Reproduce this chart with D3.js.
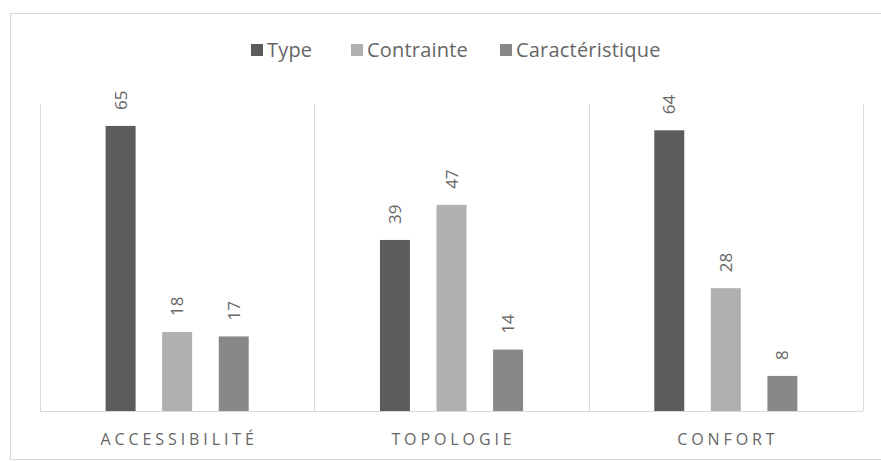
<!DOCTYPE html>
<html>
<head>
<meta charset="utf-8">
<script src="https://cdn.jsdelivr.net/npm/d3@7"></script>
<style>
  body { margin: 0; background: #fff; }
  svg text { font-family: "Open Sans", sans-serif; fill: #666666; }
</style>
</head>
<body>
<div id="container"></div>
<script>
const categories = ['ACCESSIBILITÉ', 'TOPOLOGIE', 'CONFORT']
const seriesNames = ['Type', 'Contrainte', 'Caractéristique']
const typeValues = [65, 39, 64]
const contrainteValues = [18, 47, 28]
const caractValues = [17, 14, 8]
const colors = ['#5c5c5c', '#b0b0b0', '#888888']

const width = 881
const height = 461
const margin = { top: 104, right: 18, bottom: 50, left: 40 }

const svg = d3.select('#container')
    .append('svg')
    .attr('width', width)
    .attr('height', height)

// cadre du graphique
svg.append('rect')
    .attr('x', 10.5).attr('y', 13.5)
    .attr('width', 880).attr('height', 446)
    .attr('fill', 'none')
    .attr('stroke', '#d9d9d9')

const data = categories.map((c, i) => ({
    cat: c,
    values: [typeValues[i], contrainteValues[i], caractValues[i]]
}))

const x0 = d3.scaleBand()
    .domain(categories)
    .range([margin.left, width - margin.right])

const x1 = d3.scaleBand()
    .domain(seriesNames)
    .range([0, x0.bandwidth()])
    .paddingInner(0.47)
    .paddingOuter(1.16)

const y = d3.scaleLinear()
    .domain([0, 70])
    .range([height - margin.bottom, margin.top])

// séparateurs verticaux
const edges = categories.map(c => x0(c)).concat([x0.range()[1]])
svg.selectAll('.sep').data(edges)
    .join('line')
    .attr('class', 'sep')
    .attr('x1', d => Math.round(d) + 0.5)
    .attr('x2', d => Math.round(d) + 0.5)
    .attr('y1', margin.top)
    .attr('y2', height - margin.bottom)
    .attr('stroke', '#d9d9d9')

svg.append('line')
    .attr('x1', margin.left).attr('x2', width - margin.right)
    .attr('y1', y(0) + 0.5).attr('y2', y(0) + 0.5)
    .attr('stroke', '#d9d9d9')

const groups = svg.selectAll('.cat').data(data)
    .join('g')
    .attr('class', 'cat')
    .attr('transform', d => `translate(${x0(d.cat)}, 0)`)

groups.selectAll('rect')
    .data(d => d.values.map((v, i) => ({ name: seriesNames[i], v, i })))
    .join('rect')
    .attr('x', d => x1(d.name))
    .attr('y', d => y(d.v))
    .attr('width', x1.bandwidth())
    .attr('height', d => y(0) - y(d.v))
    .attr('fill', d => colors[d.i])

groups.selectAll('.lbl')
    .data(d => d.values.map((v, i) => ({ name: seriesNames[i], v })))
    .join('text')
    .attr('class', 'lbl')
    .attr('transform', d => `translate(${x1(d.name) + x1.bandwidth() / 2 + 6}, ${y(d.v) - 16}) rotate(-90)`)
    .attr('font-size', 17)
    .text(d => d.v)

// étiquettes des catégories
const xAxis = d3.axisBottom(x0).tickSize(0)
const gx = svg.append('g')
    .attr('transform', `translate(2, ${y(0)})`)
    .call(xAxis)
gx.select('.domain').remove()
gx.selectAll('text')
    .attr('dy', 0)
    .attr('y', 34)
    .attr('font-size', 16)
    .attr('letter-spacing', '3.9px')
    .style('fill', '#666666')
    .style('font-family', '"Open Sans", sans-serif')

// légende
const legendX = [251, 351, 500]
const legend = svg.append('g').attr('id', 'legend')
seriesNames.forEach((n, i) => {
    legend.append('rect')
        .attr('x', legendX[i]).attr('y', 44)
        .attr('width', 12).attr('height', 12)
        .attr('fill', colors[i])
    legend.append('text')
        .attr('x', legendX[i] + 16).attr('y', 57)
        .attr('font-size', 20)
        .attr('letter-spacing', '0.2px')
        .text(n)
})
</script>
</body>
</html>
